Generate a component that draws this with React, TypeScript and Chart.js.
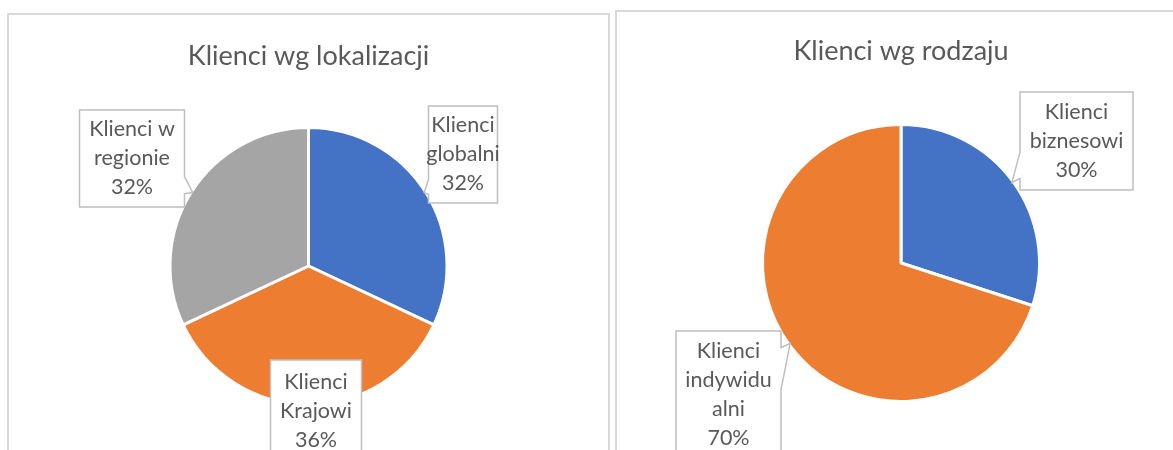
import React, { useEffect, useRef } from "react";
import { Chart, registerables } from "chart.js";

Chart.register(...registerables);

// ---------- data ----------
const locTitle = "Klienci wg lokalizacji";
const locCategories = ["Klienci globalni", "Klienci Krajowi", "Klienci w regionie"];
const locLabelLines = [["Klienci", "globalni"], ["Klienci", "Krajowi"], ["Klienci w", "regionie"]];
const locValues = [32, 36, 32];
const locColors = ["#4472C4", "#ED7D31", "#A5A5A5"];

const typeTitle = "Klienci wg rodzaju";
const typeCategories = ["Klienci biznesowi", "Klienci indywidualni"];
const typeLabelLines = [["Klienci", "biznesowi"], ["Klienci", "indywidu", "alni"]];
const typeValues = [30, 70];
const typeColors = ["#4472C4", "#ED7D31"];

// ---------- layout (callout box placement relative to the pie centre) ----------
type Callout = { dx: number; dy: number; w: number; h: number; wedge: [number, number] };
const locCallouts: Callout[] = [
  { dx: 154.5, dy: -111.5, w: 69, h: 97, wedge: [-13, 2] },
  { dx: 7.5, dy: 145, w: 91, h: 102, wedge: [0, 0] },
  { dx: -176.5, dy: -107.5, w: 105, h: 97, wedge: [-16, 1] },
];
const typeCallouts: Callout[] = [
  { dx: 175.5, dy: -122, w: 113, h: 98, wedge: [-30, -4] },
  { dx: -172.5, dy: 132, w: 105, h: 128, wedge: [4, 46] },
];

const FONT = "Lato, 'Open Sans', sans-serif";
const TEXT = "#595959";
const TITLE_SIZE = 27;
const LABEL_SIZE = 21.5;
const LABEL_LH = 29;
const SLICE_BORDER = 3;

function makeCalloutPlugin(callouts: Callout[], lines: string[][]) {
  return {
    id: "callouts",
    afterDatasetsDraw(chart: any) {
      const ctx: CanvasRenderingContext2D = chart.ctx;
      const meta = chart.getDatasetMeta(0);
      const data = chart.data.datasets[0].data as number[];
      const total = data.reduce((a, b) => a + b, 0);
      meta.data.forEach((arc: any, i: number) => {
        const { x, y, startAngle, endAngle, outerRadius } = arc.getProps(
          ["x", "y", "startAngle", "endAngle", "outerRadius"],
          true
        );
        const mid = (startAngle + endAngle) / 2;
        const r = outerRadius - SLICE_BORDER / 2;
        const tx = x + Math.cos(mid) * r;
        const ty = y + Math.sin(mid) * r;
        const c = callouts[i];
        const cx = x + c.dx;
        const cy = y + c.dy;
        const left = cx - c.w / 2;
        const top = cy - c.h / 2;
        const right = left + c.w;
        const bottom = top + c.h;
        const y1 = Math.max(top + 1, ty + c.wedge[0]);
        const y2 = Math.min(bottom - 1, ty + c.wedge[1]);
        ctx.save();
        ctx.beginPath();
        ctx.moveTo(left, top);
        ctx.lineTo(right, top);
        if (tx > right) {
          ctx.lineTo(right, y1);
          ctx.lineTo(tx, ty);
          ctx.lineTo(right, y2);
        }
        ctx.lineTo(right, bottom);
        ctx.lineTo(left, bottom);
        if (tx < left) {
          ctx.lineTo(left, y2);
          ctx.lineTo(tx, ty);
          ctx.lineTo(left, y1);
        }
        ctx.closePath();
        ctx.fillStyle = "#FFFFFF";
        ctx.fill();
        ctx.strokeStyle = "#BFBFBF";
        ctx.lineWidth = 1.5;
        ctx.stroke();
        const txt = [...lines[i], Math.round((data[i] / total) * 100) + "%"];
        ctx.font = `${LABEL_SIZE}px ${FONT}`;
        ctx.fillStyle = TEXT;
        ctx.textAlign = "center";
        ctx.textBaseline = "middle";
        txt.forEach((t, k) => {
          ctx.fillText(t, cx, cy + (k - (txt.length - 1) / 2) * LABEL_LH);
        });
        ctx.restore();
      });
    },
  };
}

type BoxProps = {
  left: number;
  top: number;
  width: number;
  height: number;
  title: string;
  titleCenter: number; // title centre y inside canvas
  pieCenter: number; // pie centre y inside canvas
  radius: number;
  labels: string[];
  values: number[];
  colors: string[];
  callouts: Callout[];
  lines: string[][];
};

function PieBox(p: BoxProps) {
  const ref = useRef<HTMLCanvasElement>(null);
  const cw = p.width - 4;
  const ch = p.height - 4;
  useEffect(() => {
    let chart: Chart | null = null;
    let cancelled = false;
    const lh = TITLE_SIZE * 1.2;
    const padTop = p.titleCenter - lh / 2;
    const areaTop = padTop + lh;
    const padBottom = ch - (2 * p.pieCenter - areaTop);
    const make = () => {
      if (cancelled || !ref.current) return;
      chart = new Chart(ref.current, {
        type: "pie",
        data: {
          labels: p.labels,
          datasets: [
            {
              data: p.values,
              backgroundColor: p.colors,
              borderColor: "#FFFFFF",
              borderWidth: SLICE_BORDER,
            },
          ],
        },
        options: {
          responsive: false,
          animation: false,
          events: [],
          radius: p.radius,
          layout: { padding: { top: 0, bottom: padBottom, left: 0, right: 0 } },
          plugins: {
            legend: { display: false },
            tooltip: { enabled: false },
            title: {
              display: true,
              text: p.title,
              color: TEXT,
              font: { family: FONT, size: TITLE_SIZE, weight: "normal", lineHeight: 1.2 },
              padding: { top: padTop, bottom: 0 },
            },
          },
        } as any,
        plugins: [makeCalloutPlugin(p.callouts, p.lines)],
      });
    };
    const fonts: any = (document as any).fonts;
    if (fonts && fonts.load) {
      Promise.all([fonts.load(`${TITLE_SIZE}px Lato`), fonts.load(`${LABEL_SIZE}px Lato`)]).then(make, make);
    } else {
      make();
    }
    return () => {
      cancelled = true;
      if (chart) chart.destroy();
    };
  }, []);
  return (
    <div
      style={{
        position: "absolute",
        left: p.left,
        top: p.top,
        width: p.width,
        height: p.height,
        border: "2px solid #D9D9D9",
        boxSizing: "border-box",
        background: "#FFFFFF",
      }}
    >
      <canvas ref={ref} width={cw} height={ch} style={{ display: "block", width: cw, height: ch }} />
    </div>
  );
}

export default function App() {
  return (
    <div
      style={{
        position: "fixed",
        left: 0,
        top: 0,
        width: 1173,
        height: 450,
        overflow: "hidden",
        background: "#FFFFFF",
      }}
    >
      <PieBox
        left={7}
        top={13}
        width={603}
        height={500}
        title={locTitle}
        titleCenter={41}
        pieCenter={251}
        radius={138.5}
        labels={locCategories}
        values={locValues}
        colors={locColors}
        callouts={locCallouts}
        lines={locLabelLines}
      />
      <PieBox
        left={615}
        top={10}
        width={572}
        height={500}
        title={typeTitle}
        titleCenter={39.5}
        pieCenter={251}
        radius={138.5}
        labels={typeCategories}
        values={typeValues}
        colors={typeColors}
        callouts={typeCallouts}
        lines={typeLabelLines}
      />
    </div>
  );
}
